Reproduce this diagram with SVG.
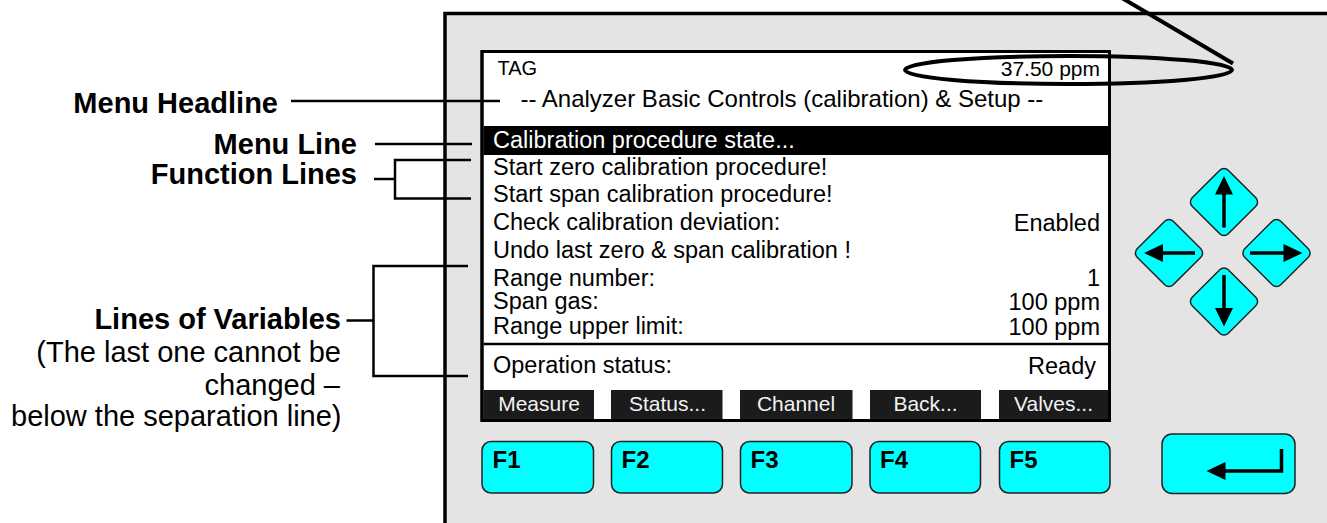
<svg xmlns="http://www.w3.org/2000/svg" width="1327" height="523" viewBox="0 0 1327 523">
  <style>
    text { font-family: "Liberation Sans", Arial, sans-serif; }
    .lbl { font-size: 29px; font-weight: bold; text-anchor: end; }
    .note { font-size: 29px; text-anchor: end; }
    .row { font-size: 23.5px; }
    .val { font-size: 23.5px; text-anchor: end; }
    .tab { fill: #1b1b1b; }
    .tabt { font-size: 21px; fill: #f2f2f2; text-anchor: middle; }
    .key { fill: #00ffff; stroke: #222; stroke-width: 1.5; }
    .fk { font-size: 24px; font-weight: bold; }
    .lead { fill: none; stroke: #000; stroke-width: 2.5; }
    .shaft { stroke: #000; stroke-width: 3.5; fill: none; }
  </style>

  <rect width="1327" height="523" fill="#fff"/>

  <!-- instrument front panel -->
  <g id="panel">
    <rect x="445" y="13.5" width="910" height="540" fill="#e4e4e4" stroke="#000" stroke-width="3.5"/>
  </g>

  <!-- LCD display -->
  <g id="display">
    <rect x="482" y="51.5" width="627.5" height="369" fill="#fff" stroke="#000" stroke-width="3"/>
    <text x="497.5" y="75" font-size="20">TAG</text>
    <text x="1100" y="76" font-size="21" text-anchor="end">37.50 ppm</text>
    <text x="520.5" y="107" font-size="24">-- Analyzer Basic Controls (calibration) &amp; Setup --</text>

    <rect x="483.5" y="126" width="624.5" height="29" fill="#000"/>
    <text class="row" x="493" y="147.5" fill="#fff">Calibration procedure state...</text>
    <text class="row" x="493" y="175">Start zero calibration procedure!</text>
    <text class="row" x="493" y="202">Start span calibration procedure!</text>
    <text class="row" x="493" y="230">Check calibration deviation:</text>
    <text class="val" x="1100" y="231">Enabled</text>
    <text class="row" x="493" y="258">Undo last zero &amp; span calibration !</text>
    <text class="row" x="493" y="285.5">Range number:</text>
    <text class="val" x="1100" y="286">1</text>
    <text class="row" x="493" y="309">Span gas:</text>
    <text class="val" x="1100" y="310">100 ppm</text>
    <text class="row" x="493" y="333.5">Range upper limit:</text>
    <text class="val" x="1100" y="334.5">100 ppm</text>

    <line x1="483.5" y1="344" x2="1108" y2="344" stroke="#000" stroke-width="2.5"/>
    <text class="row" x="493" y="373">Operation status:</text>
    <text class="val" x="1096" y="373.5">Ready</text>

    <!-- soft key captions -->
    <rect class="tab" x="483.5" y="390" width="110.5" height="29.5"/>
    <rect class="tab" x="611" y="390" width="111.5" height="29.5"/>
    <rect class="tab" x="740" y="390" width="112.5" height="29.5"/>
    <rect class="tab" x="870" y="390" width="111" height="29.5"/>
    <rect class="tab" x="999" y="390" width="109" height="29.5"/>
    <text class="tabt" x="539" y="410.5">Measure</text>
    <text class="tabt" x="667.5" y="410.5">Status...</text>
    <text class="tabt" x="796" y="410.5">Channel</text>
    <text class="tabt" x="925.5" y="410.5">Back...</text>
    <text class="tabt" x="1053.5" y="410.5">Valves...</text>
    <rect x="482" y="51.5" width="627.5" height="369" fill="none" stroke="#000" stroke-width="3"/>
  </g>

  <!-- function keys -->
  <g id="fkeys">
    <rect class="key" x="482" y="441.5" width="111.5" height="51.5" rx="9"/>
    <rect class="key" x="611.5" y="441.5" width="111" height="51.5" rx="9"/>
    <rect class="key" x="740.5" y="441.5" width="111.5" height="51.5" rx="9"/>
    <rect class="key" x="870" y="441.5" width="110.5" height="51.5" rx="9"/>
    <rect class="key" x="999.5" y="441.5" width="110.5" height="51.5" rx="9"/>
    <text class="fk" x="492.5" y="468">F1</text>
    <text class="fk" x="621.5" y="468">F2</text>
    <text class="fk" x="750.5" y="468">F3</text>
    <text class="fk" x="880" y="468">F4</text>
    <text class="fk" x="1009.5" y="468">F5</text>
  </g>

  <!-- enter key -->
  <g id="enter">
    <rect class="key" x="1162" y="434" width="133" height="59.5" rx="10"/>
    <path class="shaft" d="M1281.5,449 V471 H1224"/>
    <polygon points="1206.5,471 1225.5,462 1225.5,480"/>
  </g>

  <!-- cursor keys -->
  <g id="cursor-up">
    <rect class="key" x="-25.5" y="-25.5" width="51" height="51" rx="6" transform="translate(1224,202) rotate(45)"/>
    <line class="shaft" x1="1224" y1="227.5" x2="1224" y2="193"/>
    <polygon points="1224,176 1215,194.5 1233,194.5"/>
  </g>
  <g id="cursor-left">
    <rect class="key" x="-25.5" y="-25.5" width="51" height="51" rx="6" transform="translate(1169,253) rotate(45)"/>
    <line class="shaft" x1="1195" y1="253" x2="1161" y2="253"/>
    <polygon points="1144,253 1163,244 1163,262"/>
  </g>
  <g id="cursor-right">
    <rect class="key" x="-25.5" y="-25.5" width="51" height="51" rx="6" transform="translate(1276.5,253) rotate(45)"/>
    <line class="shaft" x1="1250" y1="253" x2="1285" y2="253"/>
    <polygon points="1302.5,253 1283.5,244 1283.5,262"/>
  </g>
  <g id="cursor-down">
    <rect class="key" x="-25.5" y="-25.5" width="51" height="51" rx="6" transform="translate(1224,301.5) rotate(45)"/>
    <line class="shaft" x1="1224" y1="275" x2="1224" y2="310"/>
    <polygon points="1224,326.5 1215,308 1233,308"/>
  </g>

  <!-- highlight of the measured value -->
  <g id="value-callout">
    <ellipse cx="1068.5" cy="70" rx="163.5" ry="14" fill="none" stroke="#000" stroke-width="4"/>
    <line x1="1122" y1="-2" x2="1233" y2="63.5" stroke="#000" stroke-width="4"/>
  </g>

  <!-- annotation labels -->
  <g id="label-headline"><text class="lbl" x="278" y="113">Menu Headline</text></g>
  <g id="label-menuline"><text class="lbl" x="357" y="153.5">Menu Line</text></g>
  <g id="label-function"><text class="lbl" x="357" y="184">Function Lines</text></g>
  <g id="label-variables">
    <text class="lbl" x="341" y="329">Lines of Variables</text>
    <text class="note" x="341" y="362">(The last one cannot be</text>
    <text class="note" x="340" y="395">changed –</text>
    <text class="note" x="341.5" y="426">below the separation line)</text>
  </g>

  <!-- leader lines -->
  <g id="connectors">
    <path class="lead" d="M291,101 H500"/>
    <path class="lead" d="M375,144 H472"/>
    <path class="lead" d="M374,179 H395"/>
    <path class="lead" d="M471,160 H395 V198.5 H471"/>
    <path class="lead" d="M346.5,320.5 H373"/>
    <path class="lead" d="M468,266 H373.5 V376 H468"/>
  </g>
</svg>
